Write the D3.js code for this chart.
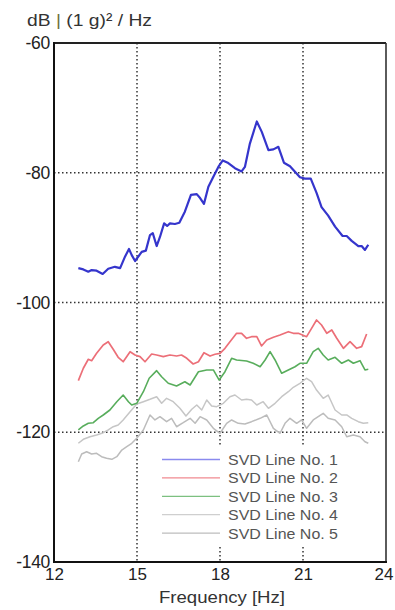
<!DOCTYPE html>
<html>
<head>
<meta charset="utf-8">
<script src="https://cdn.jsdelivr.net/npm/d3@7"></script>
<style>
  html, body { margin: 0; padding: 0; background: #fff; }
  svg { display: block; }
</style>
</head>
<body>
<svg id="chart" width="395" height="610"></svg>
<script>
// Singular value spectra (dB re (1 g)^2/Hz) against frequency in Hz
const xTicks = [12, 15, 18, 21, 24];
const yTicks = [-60, -80, -100, -120, -140];
const seriesNames = ["SVD Line No. 1", "SVD Line No. 2", "SVD Line No. 3", "SVD Line No. 4", "SVD Line No. 5"];

const svd1Freq = [12.88,13.06,13.24,13.36,13.54,13.76,13.96,14.20,14.39,14.57,14.71,14.81,14.93,15.17,15.32,15.47,15.57,15.71,15.83,15.98,16.09,16.19,16.37,16.53,16.73,16.95,17.16,17.28,17.42,17.58,17.76,17.94,18.10,18.30,18.54,18.78,18.90,19.08,19.33,19.51,19.75,19.93,20.11,20.31,20.53,20.89,21.07,21.28,21.49,21.67,21.91,22.16,22.43,22.58,22.76,23.00,23.12,23.24,23.36];
const svd1Db = [-94.7,-94.9,-95.25,-95.0,-95.1,-95.6,-94.8,-94.5,-94.7,-92.9,-91.75,-92.7,-93.6,-92.2,-92.0,-89.6,-89.3,-91.3,-89.9,-87.8,-88.2,-87.8,-87.9,-87.7,-86.0,-83.4,-83.3,-83.9,-84.8,-82.15,-80.6,-79.1,-78.1,-78.5,-79.3,-79.8,-79.1,-75.5,-72.1,-73.7,-76.5,-76.4,-76.0,-78.45,-79.0,-80.7,-80.9,-80.9,-83.1,-85.3,-86.6,-88.3,-89.75,-89.75,-90.5,-91.3,-91.3,-91.9,-91.1];

const svd2Freq = [12.88,13.06,13.24,13.36,13.54,13.78,13.96,14.14,14.32,14.50,14.75,14.93,15.11,15.29,15.53,15.71,15.95,16.19,16.43,16.61,16.80,17.03,17.22,17.42,17.64,17.82,18.00,18.18,18.36,18.60,18.78,18.96,19.14,19.33,19.50,19.69,19.93,20.17,20.47,20.65,20.83,21.13,21.31,21.49,21.67,21.86,22.04,22.22,22.46,22.70,22.94,23.12,23.30];
const svd2Db = [-112.05,-110.14,-108.75,-108.97,-107.83,-106.55,-106.04,-107.21,-108.45,-109.13,-107.58,-108.09,-108.35,-109.13,-107.94,-108.09,-108.35,-108.09,-108.25,-108.09,-108.6,-109.48,-109.13,-107.74,-108.25,-107.98,-107.83,-107.06,-106.04,-104.75,-104.75,-105.52,-105.27,-105.27,-106.7,-105.78,-105.36,-105.01,-104.5,-104.75,-104.75,-105.27,-103.98,-102.7,-103.47,-104.75,-104.24,-105.52,-107.06,-106.04,-107.06,-106.81,-104.85];

const svd3Freq = [12.88,13.06,13.24,13.42,13.60,13.78,14.02,14.27,14.50,14.69,14.81,14.99,15.23,15.44,15.71,15.89,16.13,16.43,16.73,16.92,17.22,17.52,17.76,17.97,18.18,18.42,18.60,18.96,19.20,19.45,19.63,19.81,19.99,20.23,20.47,20.71,20.89,21.13,21.37,21.55,21.73,21.91,22.16,22.40,22.64,22.82,23.06,23.24,23.36];
const svd3Db = [-119.65,-119.03,-118.62,-118.53,-117.85,-117.34,-116.57,-115.29,-114.26,-115.29,-115.8,-115.54,-113.75,-111.68,-110.51,-111.44,-112.45,-112.87,-112.21,-112.72,-110.67,-110.4,-110.4,-111.95,-110.67,-108.6,-108.86,-109.02,-109.37,-109.9,-108.86,-107.58,-108.86,-110.91,-110.4,-109.9,-109.37,-109.37,-107.58,-107.06,-108.09,-108.86,-108.45,-109.37,-108.86,-109.37,-108.97,-110.4,-110.3];

const svd4Freq = [12.88,13.06,13.30,13.54,13.78,13.96,14.14,14.32,14.50,14.75,14.99,15.23,15.47,15.71,15.89,16.07,16.31,16.55,16.77,16.98,17.16,17.34,17.52,17.70,17.88,18.12,18.36,18.54,18.78,18.96,19.14,19.33,19.56,19.75,19.99,20.23,20.47,20.65,20.89,21.13,21.31,21.49,21.73,21.91,22.16,22.40,22.58,22.76,23.00,23.18,23.36];
const svd4Db = [-121.7,-121.09,-120.69,-120.42,-120.07,-119.65,-119.15,-118.88,-118.11,-116.83,-115.65,-115.29,-114.92,-114.52,-115.54,-114.77,-115.29,-116.31,-117.5,-116.46,-115.8,-116.57,-115.03,-115.95,-116.06,-115.54,-114.52,-114.26,-115.03,-114.92,-115.03,-115.8,-115.29,-116.31,-115.54,-114.52,-113.75,-113.07,-112.45,-111.68,-112.21,-113.49,-114.77,-114.26,-116.57,-117.34,-117.34,-117.85,-118.37,-118.62,-118.53];

const svd5Freq = [12.88,13.00,13.18,13.36,13.54,13.72,13.90,14.09,14.27,14.45,14.63,14.81,14.99,15.23,15.47,15.65,15.83,16.07,16.25,16.43,16.67,16.92,17.10,17.28,17.52,17.76,18.00,18.24,18.42,18.66,18.90,19.14,19.45,19.69,19.93,20.17,20.35,20.53,20.77,20.95,21.13,21.37,21.55,21.73,21.91,22.16,22.40,22.58,22.82,23.06,23.24,23.36];
const svd5Db = [-124.54,-123.35,-123.0,-123.35,-123.25,-123.77,-124.02,-124.17,-123.77,-122.74,-122.23,-121.7,-120.93,-119.65,-117.34,-118.11,-117.6,-118.37,-117.85,-119.15,-118.53,-117.85,-118.62,-117.6,-118.11,-119.39,-120.16,-118.62,-118.11,-118.62,-118.73,-118.37,-117.85,-117.34,-119.39,-120.16,-118.62,-117.85,-118.62,-118.11,-119.39,-118.11,-117.6,-117.08,-117.85,-118.11,-119.15,-120.69,-120.42,-120.69,-121.46,-121.7];

const lineColors = ["#3535cc", "#ec6f78", "#58ad5c", "#c6c6c6", "#bcbcbc"];
const legendColors = ["#8a8aee", "#f08a90", "#7cc080", "#cfcfcf", "#bdbdbd"];
const lineWidths = [2.2, 1.7, 1.6, 1.5, 1.5];

const series = [
  [svd1Freq, svd1Db], [svd2Freq, svd2Db], [svd3Freq, svd3Db], [svd4Freq, svd4Db], [svd5Freq, svd5Db]
].map(([f, d], i) => ({ name: seriesNames[i], idx: i, points: f.map((v, k) => [v, d[k]]) }));

const svg = d3.select("#chart");
const plotL = 54, plotR = 386, plotT = 43, plotB = 562;

const x = d3.scaleLinear().domain([12, 24]).range([plotL, plotR]);
const y = d3.scaleLinear().domain([-140, -60]).range([plotB, plotT]);

const font = "'Liberation Sans', Arial, sans-serif";
const hyphenFmt = d => String(d);  // plain hyphen-minus

// dotted grid
const grid = svg.append("g");
grid.selectAll("line.v").data(xTicks.slice(1, -1)).join("line").attr("class", "v")
  .attr("x1", d => x(d)).attr("x2", d => x(d))
  .attr("y1", plotT).attr("y2", plotB)
  .attr("stroke", "#333").attr("stroke-width", 1.5)
  .attr("stroke-dasharray", "1.5,2.5");
grid.selectAll("line.h").data(yTicks.slice(1, -1)).join("line").attr("class", "h")
  .attr("x1", plotL).attr("x2", plotR)
  .attr("y1", d => y(d)).attr("y2", d => y(d))
  .attr("stroke", "#333").attr("stroke-width", 1.5)
  .attr("stroke-dasharray", "1.5,2.5");

// spectra
const line = d3.line().x(d => x(d[0])).y(d => y(d[1])).curve(d3.curveLinear);
svg.append("g").selectAll("path").data(series.slice().reverse()).join("path")
  .attr("d", d => line(d.points))
  .attr("fill", "none")
  .attr("stroke", d => lineColors[d.idx])
  .attr("stroke-width", d => lineWidths[d.idx])
  .attr("stroke-linejoin", "round");

// legend box
const lg = svg.append("g");
lg.append("rect").attr("x", 158).attr("y", 447).attr("width", 222).attr("height", 100).attr("fill", "#fff");
const rowH = 18.4;
seriesNames.forEach((name, i) => {
  const cy = 459.5 + i * rowH;
  lg.append("line").attr("x1", 162).attr("x2", 220).attr("y1", cy).attr("y2", cy)
    .attr("stroke", legendColors[i]).attr("stroke-width", 1.3);
  lg.append("text").attr("x", 228).attr("y", cy).attr("dy", "0.36em")
    .attr("font-family", font).attr("font-size", 15.2)
    .attr("textLength", 110).attr("lengthAdjust", "spacingAndGlyphs")
    .attr("fill", "#555").text(name);
});

// frame
svg.append("line").attr("x1", plotL).attr("x2", plotR).attr("y1", plotT).attr("y2", plotT)
  .attr("stroke", "#222").attr("stroke-width", 1.8);
svg.append("line").attr("x1", plotR).attr("x2", plotR).attr("y1", plotT).attr("y2", plotB)
  .attr("stroke", "#333").attr("stroke-width", 1.6);
svg.append("line").attr("x1", plotL).attr("x2", plotL).attr("y1", plotT - 1).attr("y2", plotB + 1)
  .attr("stroke", "#111").attr("stroke-width", 2);
svg.append("line").attr("x1", plotL - 1).attr("x2", plotR + 1).attr("y1", plotB).attr("y2", plotB)
  .attr("stroke", "#111").attr("stroke-width", 2);

// axes (labels only; frame drawn above)
const yAxis = d3.axisLeft(y).tickValues(yTicks).tickSize(0).tickPadding(4).tickFormat(hyphenFmt);
const yg = svg.append("g").attr("transform", `translate(${plotL},0)`).call(yAxis);
yg.select(".domain").remove();
yg.selectAll("text").attr("font-family", font).attr("font-size", 17.5).attr("fill", "#222")
  .attr("letter-spacing", "-0.3");

const xAxis = d3.axisBottom(x).tickValues(xTicks).tickSize(0).tickPadding(6).tickFormat(hyphenFmt);
const xg = svg.append("g").attr("transform", `translate(0,${plotB})`).call(xAxis);
xg.select(".domain").remove();
xg.selectAll("text").attr("font-family", font).attr("font-size", 17).attr("fill", "#222")
  .attr("dx", d => d === xTicks[xTicks.length - 1] ? -2.5 : 0);

svg.append("text").attr("x", x(18) + 2).attr("y", 603).attr("text-anchor", "middle")
  .attr("font-family", font).attr("font-size", 17).attr("fill", "#333")
  .attr("textLength", 126).attr("lengthAdjust", "spacingAndGlyphs")
  .text("Frequency [Hz]");

const yl = svg.append("text").attr("x", 27).attr("y", 26)
  .attr("font-family", font).attr("font-size", 17).attr("fill", "#333")
  .attr("textLength", 125).attr("lengthAdjust", "spacingAndGlyphs");
yl.append("tspan").text("dB ");
yl.append("tspan").attr("fill", "#6f7040").text("|");
yl.append("tspan").text(" (1 g)² / Hz");
</script>
</body>
</html>
